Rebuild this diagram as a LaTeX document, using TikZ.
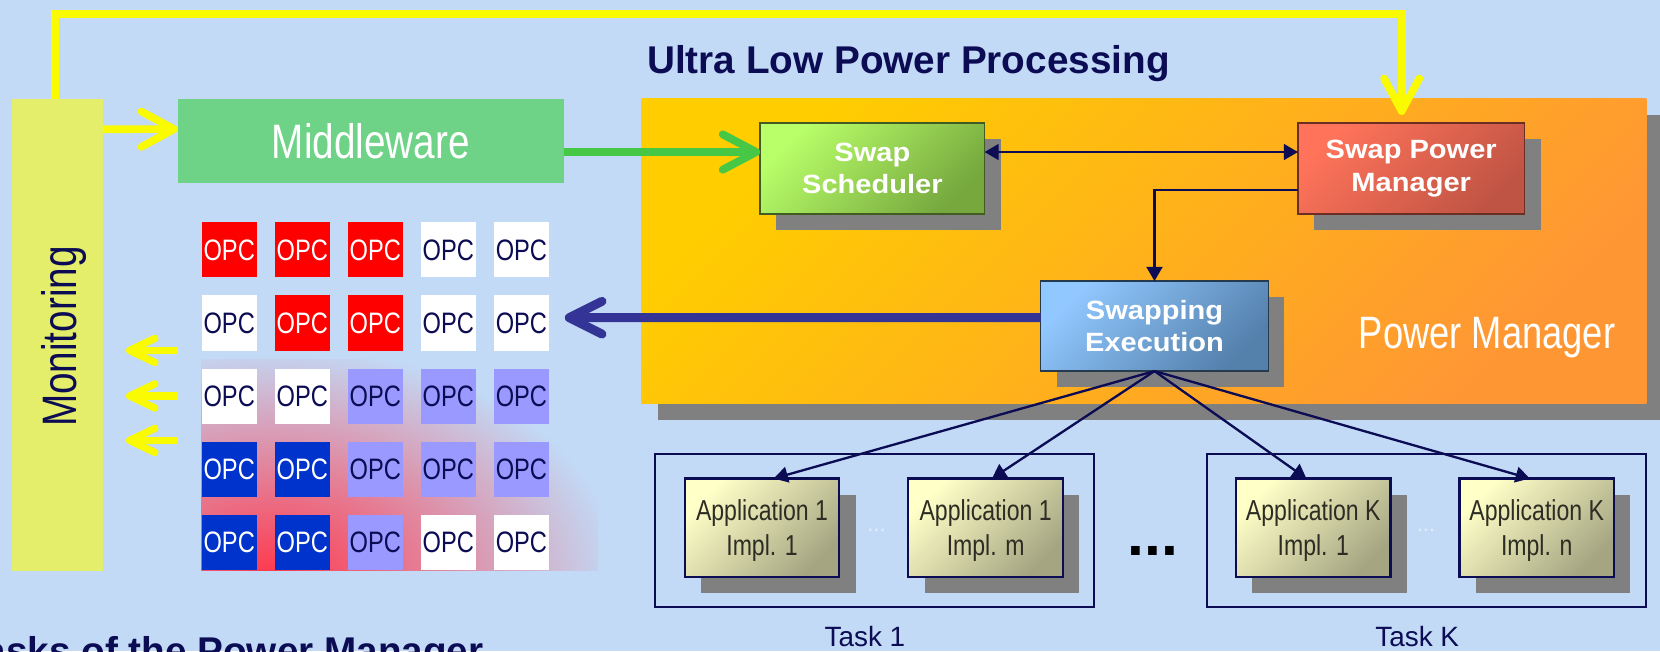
\documentclass[tikz,border=0pt]{standalone}
\usepackage{fontspec}
\setmainfont{Liberation Sans}
\newfontfamily\narrowf[FakeStretch=0.8]{Liberation Sans}
\newfontfamily\widebf[FakeStretch=1.1]{Liberation Sans}
\usetikzlibrary{arrows.meta,calc,shadows}
\newlength\upx
\setlength\upx{0.02cm}
\definecolor{bg}{RGB}{194,218,246}
\definecolor{navy}{RGB}{12,12,84}
\definecolor{monY}{RGB}{229,238,106}
\definecolor{midG}{RGB}{110,210,135}
\definecolor{arrY}{RGB}{250,250,0}
\definecolor{arrG}{RGB}{70,200,70}
\definecolor{thickB}{RGB}{52,52,150}
\definecolor{orA}{RGB}{255,205,0}
\definecolor{orB}{RGB}{255,150,52}
\definecolor{shd}{RGB}{128,128,128}
\definecolor{schA}{RGB}{185,255,105}
\definecolor{schB}{RGB}{118,168,62}
\definecolor{spmA}{RGB}{255,115,90}
\definecolor{spmB}{RGB}{192,84,68}
\definecolor{seA}{RGB}{145,200,255}
\definecolor{seB}{RGB}{84,128,172}
\definecolor{apA}{RGB}{255,255,200}
\definecolor{apB}{RGB}{165,165,130}
\definecolor{opcR}{RGB}{255,0,0}
\definecolor{opcB}{RGB}{0,51,204}
\definecolor{opcL}{RGB}{153,153,255}
\definecolor{glow}{RGB}{255,55,75}
\definecolor{apText}{RGB}{45,45,35}
\definecolor{smalldot}{RGB}{228,234,246}
\pgfdeclareradialshading{opcglow}{\pgfpoint{0bp}{0bp}}{color(0bp)=(glow); color(25bp)=(bg); color(50bp)=(bg)}
\begin{document}
\begin{tikzpicture}[x=0.02cm, y=-0.02cm,
  plainbox/.style={inner sep=0pt, outer sep=0pt},
  shadowed/.style={drop shadow={shadow xshift=8.7pt, shadow yshift=-8.7pt, fill=shd, opacity=1}},
  labelbox/.style={plainbox, shadowed, line width=0.8pt, shading angle=45,
    minimum height=86\upx, text=white, align=center,
    font=\widebf\bfseries\fontsize{14.2}{17.5}\selectfont},
  appbox/.style={plainbox, shadowed, draw=navy, line width=1.2pt, top color=apA, bottom color=apB, shading angle=45,
    minimum width=146\upx, minimum height=93\upx, text=apText, align=center, text depth=0pt,
    font=\narrowf\fontsize{15.5}{18.7}\selectfont},
  taskbox/.style={plainbox, draw=navy, line width=1pt, minimum width=414\upx, minimum height=144\upx},
  cell/.style={plainbox, minimum width=52\upx, minimum height=52\upx, font=\narrowf\fontsize{15.9}{18}\selectfont},
  cellR/.style={fill=opcR, text=white},
  cellB/.style={fill=opcB, text=white},
  cellW/.style={fill=white, text=navy},
  cellL/.style={fill=opcL, text=navy},
  yarrow/.style={draw=arrY, line width=4.1pt, -{Straight Barb[length=17.6pt,width=19pt,round]}},
  ysmall/.style={draw=arrY, line width=3.9pt, -{Straight Barb[length=13.6pt,width=13pt,round]}},
  garrow/.style={draw=arrG, line width=4.2pt, -{Straight Barb[length=18pt,width=19pt,round]}},
  barrow/.style={draw=thickB, line width=4.8pt, -{Straight Barb[length=17.6pt,width=17.6pt,round]}},
  thinline/.style={draw=navy, line width=1.25pt},
  tip/.tip={Triangle[length=7.6pt,width=8.5pt]}
]
\fill[bg] (0,0) rectangle (1568,615);
\useasboundingbox (0,0) rectangle (1568,615);
\clip (0,0) rectangle (1568,615);

% glow behind the grid
\begin{scope}
  \clip (190,340) rectangle (565,539);
  \shade[shading=opcglow] (-75,325) rectangle (585,765);
\end{scope}

% OPC grid
\foreach \r/\cols in {1/{R,R,R,W,W},2/{W,R,R,W,W},3/{W,W,L,L,L},4/{B,B,L,L,L},5/{B,B,L,W,W}} {
  \foreach \c [count=\i] in \cols {
    \node[cell, cell\c] (c\r\i) at ({216.5+69*(\i-1)},{236+69.1*(\r-1)}) {OPC};
  }
}

% monitoring & middleware
\node[plainbox, fill=monY, minimum width=85.4\upx, minimum height=445.5\upx] (mon) at (54.3,316.3) {};
\node[rotate=90, anchor=base, inner sep=0pt, text=navy, font=\narrowf\fontsize{26}{30}\selectfont] (montext) at (71.8,318) {Monitoring};
\node[plainbox, fill=midG, minimum width=364.5\upx, minimum height=79\upx, text=white, font=\narrowf\fontsize{26}{30}\selectfont] (mid) at (350.25,133) {Middleware};

% title
\node[anchor=base west, inner sep=0pt, text=navy, font=\bfseries\fontsize{20.8}{24}\selectfont] (title) at (611,69.3) {Ultra Low Power Processing};

% power manager
\node[plainbox, shadowed, top color=orA, bottom color=orB, shading angle=45, minimum width=949\upx, minimum height=288.6\upx] (pm) at (1080.5,237.3) {};
\node[anchor=base, inner sep=0pt, text=white, font=\narrowf\fontsize{24.4}{28}\selectfont] (pmlabel) at (1404.7,329.6) {Power Manager};

\node[labelbox, draw=schB!55!black, top color=schA, bottom color=schB, shading angle=45, minimum width=212\upx] (sched) at (824,159) {Swap\\Scheduler};
\node[labelbox, draw=spmB!55!black, top color=spmA, bottom color=spmB, shading angle=45, minimum width=214\upx] (spm) at (1333,159) {Swap Power\\Manager};
\node[labelbox, draw=seB!45!black, top color=seA, bottom color=seB, shading angle=45, minimum width=215\upx, minimum height=85\upx] (se) at (1090.5,308) {Swapping\\Execution};

% tasks
\node[taskbox] (task1) at (826,501) {};
\node[taskbox, minimum width=415\upx] (taskK) at (1347.5,501) {};
\node[appbox] (a11) at (719.8,498.5) {Application 1\\Impl. 1};
\node[appbox] (a1m) at (931,498.5) {Application 1\\Impl. m};
\node[appbox] (ak1) at (1240.5,498.5) {Application K\\Impl. 1};
\node[appbox] (akn) at (1451.5,498.5) {Application K\\Impl. n};
\node[anchor=base, inner sep=0pt, text=smalldot, font=\fontsize{12}{14}\selectfont] (sd1) at (828,502) {...};
\node[anchor=base, inner sep=0pt, text=smalldot, font=\fontsize{12}{14}\selectfont] (sd2) at (1347,502) {...};
\node[anchor=base, inner sep=0pt, text=black, font=\bfseries\fontsize{32.6}{36}\selectfont] (dots) at (1089,525) {...};
\node[anchor=base, inner sep=0pt, text=navy, font=\fontsize{15}{18}\selectfont] (t1lab) at (817,611) {Task 1};
\node[anchor=base, inner sep=0pt, text=navy, font=\fontsize{15}{18}\selectfont] (tklab) at (1338.7,611) {Task K};

% bottom heading (cut by the frame)
\node[anchor=base east, inner sep=0pt, text=navy, font=\bfseries\fontsize{20.8}{24}\selectfont] (bottomtext) at (457,628) {Tasks of the Power Manager};

% connectors
\draw[yarrow] ($(mon.north)+(-2.6,0)$) -- ++(0,-80.5) -| ($(spm.north)+(-9,-7.4)$);
\draw[yarrow] ($(mon.north east)+(0,28.5)$) -- ($(mid.north west)+(0,28.5)$);
\draw[garrow] ($(mid.east)+(0,10.6)$) -- ($(sched.west)+(0,-15.4)$);
\draw[barrow] ($(se.west)+(0,-8)$) -- ($(c25.east)+(15,-5)$);
\draw[thinline, tip-tip] ($(sched.east)+(0,-15.4)$) -- ($(spm.west)+(0,-15.4)$);
\draw[thinline, -tip] ($(spm.south west)+(0,-22.5)$) -| (se.north);
\draw[thinline, -tip] (se.south) -- ($(a11.north)+(11,0)$);
\draw[thinline, -tip] (se.south) -- ($(a1m.north)+(6,0)$);
\draw[thinline, -tip] (se.south) -- ($(ak1.north)+(-6.5,0)$);
\draw[thinline, -tip] (se.south) -- ($(akn.north)+(-6.5,0)$);

\coordinate (ya1s) at (168,331); \coordinate (ya1e) at (119,331);
\coordinate (ya2s) at (168,374); \coordinate (ya2e) at (119,374);
\coordinate (ya3s) at (168,416); \coordinate (ya3e) at (119,416);
\draw[ysmall] (ya1s) -- (ya1e);
\draw[ysmall] (ya2s) -- (ya2e);
\draw[ysmall] (ya3s) -- (ya3e);
\end{tikzpicture}
\end{document}
